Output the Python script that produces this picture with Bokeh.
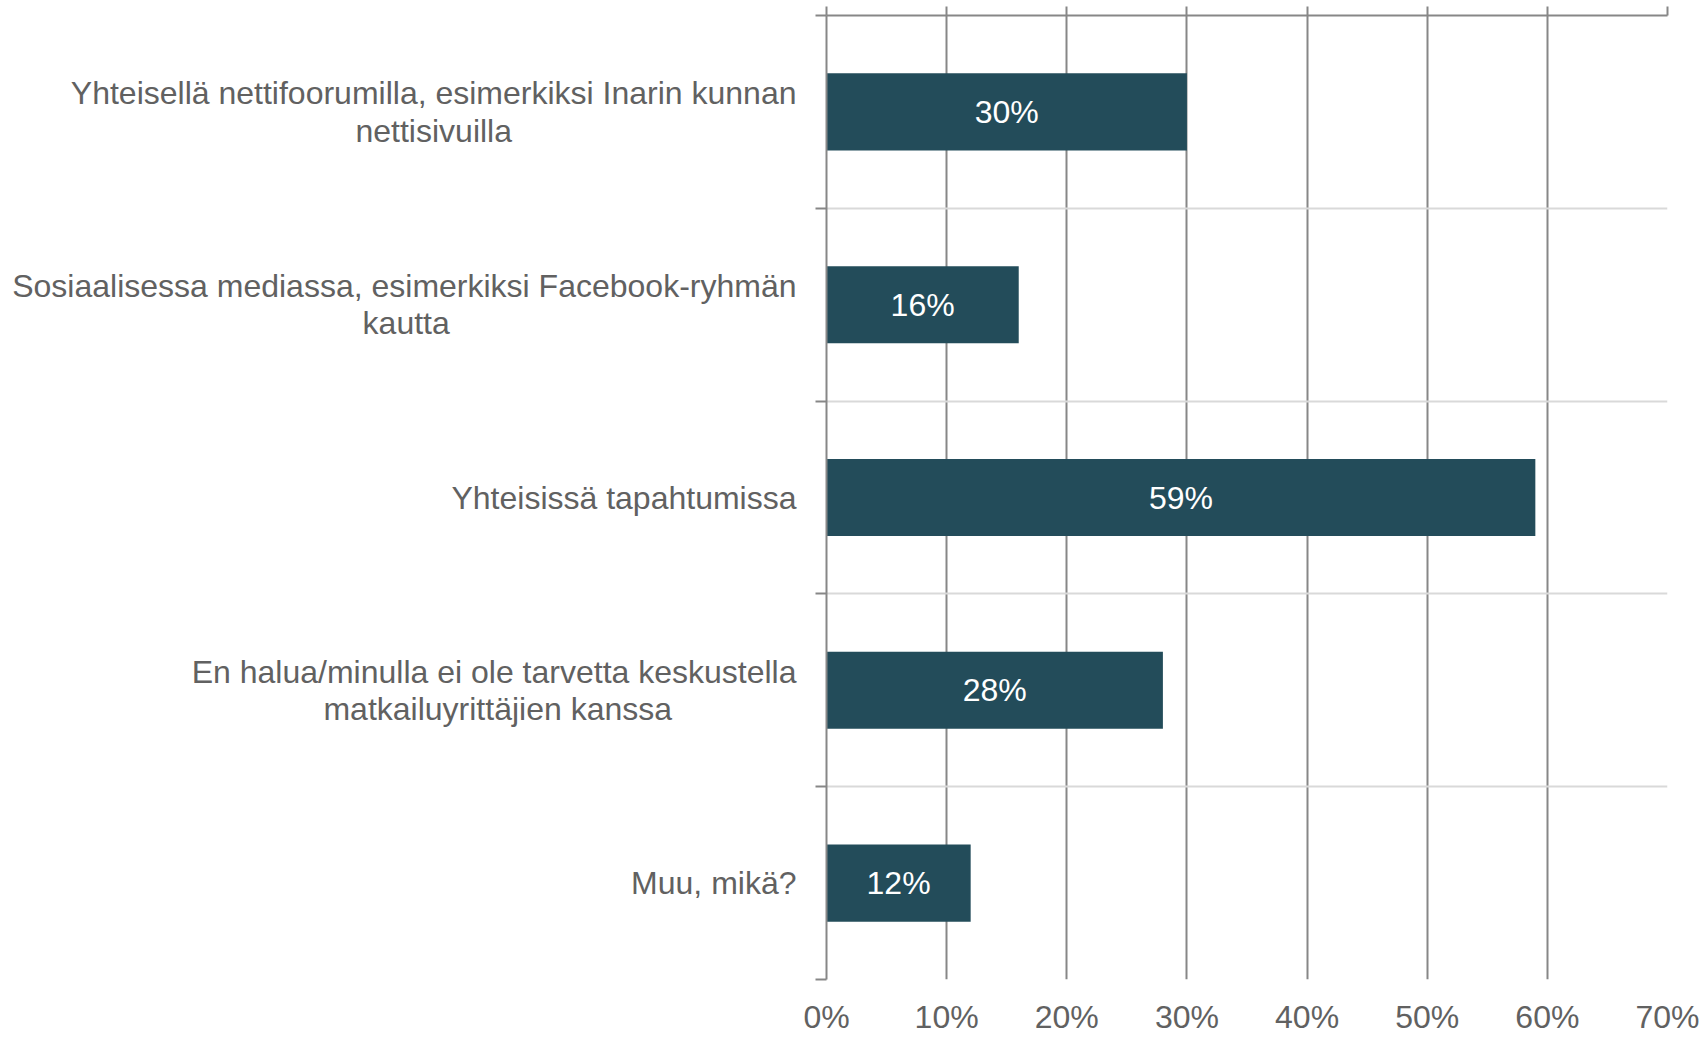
from bokeh.plotting import figure
from bokeh.models import (Range1d, FixedTicker, LinearAxis, ColumnDataSource,
                          CustomLabelingPolicy)
from bokeh.embed import file_html
from bokeh.resources import INLINE
from bokeh.core.properties import value

# ---- data ----
categories = [
    ["Yhteisellä nettifoorumilla, esimerkiksi Inarin kunnan", "nettisivuilla"],
    ["Sosiaalisessa mediassa, esimerkiksi Facebook-ryhmän", "kautta"],
    ["Yhteisissä tapahtumissa"],
    ["En halua/minulla ei ole tarvetta keskustella", "matkailuyrittäjien kanssa"],
    ["Muu, mikä?"],
]
values = [30, 16, 59, 28, 12]
x_ticks = [0, 10, 20, 30, 40, 50, 60, 70]
x_tick_labels = ["0%", "10%", "20%", "30%", "40%", "50%", "60%", "70%"]

# ---- style ----
FONT = "Liberation Sans"
TEXT_GRAY = "#616161"
DARK = "#878787"
LIGHT = "#D9D9D9"
BAR = "#234C5A"
FS = "32px"
NBSP = "\u00a0"
# trailing no-break spaces so that the second line sits centred under the first
second_line_pad = [32, 39, 0, 14, 0]

n = len(categories)
ypos = [i + 0.5 for i in range(n)]
bounds = list(range(n + 1))
bar_labels = [f"{v}%" for v in values]
bar_mid = [v / 2 for v in values]


def cat_text(lines, pad):
    if len(lines) == 1:
        return lines[0]
    return lines[0] + "\n" + lines[1] + NBSP * pad


p = figure(width=1705, height=1037,
           x_range=Range1d(0, x_ticks[-1]), y_range=Range1d(n, 0),
           output_backend="svg", toolbar_location=None,
           min_border_left=826, min_border_right=38,
           min_border_top=15, min_border_bottom=56)
p.outline_line_color = None
p.background_fill_color = "white"

# grids
p.xgrid.ticker = FixedTicker(ticks=x_ticks)
p.xgrid.grid_line_color = DARK
p.xgrid.grid_line_width = 2
p.ygrid.ticker = FixedTicker(ticks=bounds)
p.ygrid.grid_line_color = LIGHT
p.ygrid.grid_line_width = 2

# bottom axis (labels only)
xa = p.xaxis[0]
xa.ticker = FixedTicker(ticks=x_ticks)
xa.major_label_overrides = {t: l for t, l in zip(x_ticks, x_tick_labels)}
xa.axis_line_color = None
xa.major_tick_line_color = None
xa.minor_tick_line_color = None
xa.major_tick_out = 0
xa.major_tick_in = 0
xa.major_label_standoff = 19
xa.major_label_text_font = FONT
xa.major_label_text_font_size = FS
xa.major_label_text_color = TEXT_GRAY

# left axis: category labels at centres, boundary ticks as minor ticks
ya = p.yaxis[0]
ya.ticker = FixedTicker(ticks=ypos, minor_ticks=bounds)
ya.major_label_overrides = {y: cat_text(c, pad) for y, c, pad in zip(ypos, categories, second_line_pad)}
ya.major_label_standoff = 19
ya.major_label_text_font = FONT
ya.major_label_text_font_size = FS
ya.major_label_text_color = TEXT_GRAY
ya.major_label_text_line_height = 1.04
ya.axis_line_color = DARK
ya.axis_line_width = 2
ya.major_tick_line_color = None
ya.major_tick_out = 0
ya.major_tick_in = 0
ya.minor_tick_line_color = DARK
ya.minor_tick_line_width = 2
ya.minor_tick_out = 11
ya.minor_tick_in = 0

# top axis (line + ticks, no labels)
top = LinearAxis(ticker=FixedTicker(ticks=x_ticks),
                 major_label_policy=CustomLabelingPolicy(code=""),
                 major_label_text_font_size="0px",
                 major_label_standoff=0,
                 axis_line_color=DARK, axis_line_width=2,
                 major_tick_line_color=DARK, major_tick_line_width=2,
                 major_tick_out=9, major_tick_in=0,
                 minor_tick_line_color=None)
p.add_layout(top, "above")

# bars
src = ColumnDataSource(dict(y=ypos, v=values, mid=bar_mid, lab=bar_labels))
p.hbar(y="y", left=0, right="v", height=0.4, fill_color=BAR, line_color=None, source=src)
p.text(x="mid", y="y", text="lab", source=src, text_align="center", text_baseline="middle",
       text_color="white", text_font=value(FONT), text_font_size=FS)

open("out.html", "w").write(file_html(p, INLINE))
